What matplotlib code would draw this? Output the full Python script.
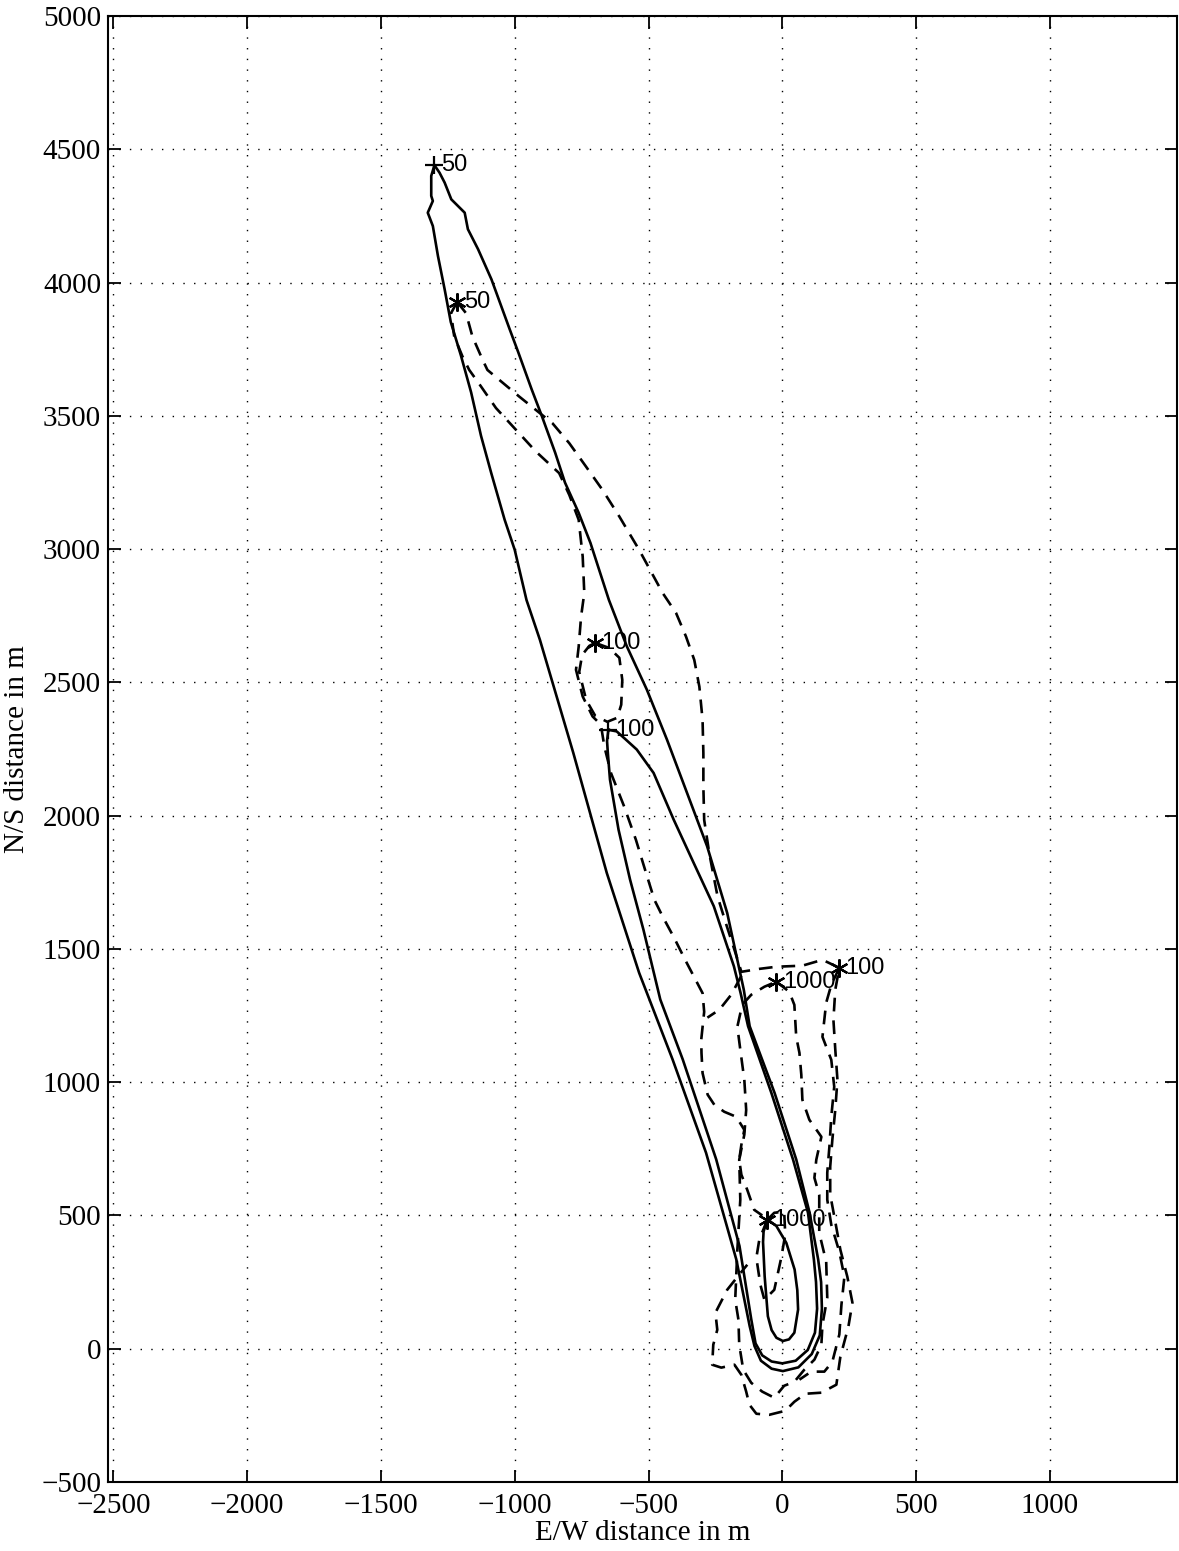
import matplotlib
matplotlib.use("Agg")
import matplotlib.pyplot as plt
import numpy as np

# concentration contours, model A (solid) and model B (dashed), metres
outer_solid = np.array([
    (-1300, 4440), (-1312, 4400), (-1312, 4325), (-1306, 4306), (-1325, 4262),
    (-1306, 4212), (-1287, 4100), (-1262, 3975), (-1239, 3852), (-1201, 3726),
    (-1163, 3588), (-1126, 3425), (-1088, 3286), (-1038, 3111), (-1000, 2997),
    (-956, 2809), (-906, 2660), (-781, 2235), (-656, 1785), (-535, 1410),
    (-410, 1085), (-285, 735), (-172, 335), (-122, 85), (-104, 10), (-80, -45),
    (-40, -75), (2, -84), (60, -70), (110, -20), (140, 50), (148, 150),
    (145, 250), (134, 335), (102, 510), (52, 710), (-29, 960), (-122, 1210),
    (-144, 1347), (-206, 1635), (-281, 1885), (-356, 2085), (-431, 2285),
    (-506, 2472), (-581, 2635), (-648, 2809), (-717, 3023), (-761, 3136),
    (-812, 3249), (-849, 3362), (-899, 3500), (-937, 3600), (-987, 3739),
    (-1019, 3825), (-1087, 4012), (-1137, 4125), (-1175, 4200), (-1187, 4262),
    (-1237, 4312), (-1262, 4375), (-1281, 4412), (-1300, 4440)])

middle_solid = np.array([
    (-650, 2322), (-655, 2280), (-652, 2235), (-644, 2135), (-612, 1947),
    (-569, 1760), (-519, 1572), (-456, 1310), (-372, 1085), (-247, 710),
    (-160, 385), (-116, 110), (-100, 20), (-75, -25), (-40, -48), (0, -55),
    (50, -45), (95, -5), (122, 60), (130, 150), (126, 250), (118, 335),
    (96, 510), (40, 710), (-41, 960), (-128, 1210), (-156, 1335), (-181, 1435),
    (-256, 1660), (-331, 1822), (-406, 1985), (-481, 2160), (-544, 2248),
    (-590, 2290), (-619, 2316), (-650, 2322)])

inner_solid = np.array([
    (-55, 485), (-70, 440), (-72, 400), (-66, 272), (-54, 122), (-40, 70),
    (-22, 41), (2, 29), (25, 35), (45, 60), (59, 147), (56, 220), (46, 297),
    (15, 397), (-22, 460), (-55, 485)])

dash_right = np.array([
    (-1215, 3927), (-1182, 3885), (-1158, 3797), (-1120, 3710), (-1102, 3672),
    (-1058, 3635), (-983, 3572), (-921, 3522), (-859, 3472), (-796, 3397),
    (-734, 3310), (-672, 3222), (-609, 3122), (-535, 2997), (-447, 2835),
    (-397, 2760), (-360, 2672), (-329, 2584), (-310, 2484), (-298, 2359),
    (-295, 2234), (-295, 2109), (-292, 1984), (-273, 1859), (-254, 1759),
    (-242, 1697), (-209, 1590), (-179, 1497), (-153, 1414), (-86, 1425),
    (-22, 1433), (75, 1437), (150, 1459), (213, 1429), (198, 1347), (191, 1234),
    (198, 1122), (206, 1009), (198, 897), (187, 784), (179, 683), (179, 578),
    (198, 476), (217, 371), (243, 270), (262, 173), (247, 83), (217, -30),
    (202, -135), (146, -165), (86, -169), (45, -199), (11, -233), (-49, -248),
    (-97, -244), (-123, -210), (-135, -161), (-153, -98), (-179, -60),
    (-228, -71), (-262, -60), (-258, 15), (-243, 71), (-250, 135), (-206, 221),
    (-161, 278), (-131, 315)])

dash_left = np.array([
    (-1215, 3927), (-1238, 3885), (-1226, 3797), (-1195, 3722), (-1170, 3672),
    (-1126, 3610), (-1070, 3529), (-995, 3447), (-921, 3366), (-834, 3285),
    (-796, 3203), (-761, 3110), (-746, 2972), (-740, 2835), (-752, 2747),
    (-761, 2634), (-771, 2547), (-746, 2447), (-709, 2372), (-678, 2341),
    (-665, 2259), (-640, 2159), (-591, 2034), (-547, 1909), (-509, 1784),
    (-478, 1684), (-447, 1621), (-404, 1541), (-360, 1453), (-298, 1334),
    (-292, 1264), (-303, 1159), (-302, 1109), (-298, 1034), (-279, 953),
    (-254, 915), (-217, 889), (-172, 870), (-142, 821), (-153, 765),
    (-161, 709), (-153, 653), (-131, 596), (-105, 521), (-75, 500)])

dash_loop_100 = np.array([
    (-699, 2648), (-647, 2629), (-609, 2592), (-598, 2509), (-602, 2416),
    (-617, 2367), (-654, 2352), (-699, 2374), (-733, 2434), (-759, 2539),
    (-748, 2603), (-721, 2637), (-699, 2648)])

dash_loop_1000 = np.array([
    (-22, 1377), (26, 1339), (45, 1290), (52, 1170), (64, 1110), (71, 1028),
    (75, 934), (101, 859), (146, 795), (127, 709), (120, 641), (138, 578),
    (138, 435), (164, 326), (168, 191), (150, 90), (146, 15), (120, -41),
    (82, -79), (45, -124), (7, -139), (-30, -184), (-75, -161), (-116, -128),
    (-146, -79), (-161, 15), (-164, 109), (-176, 184), (-168, 371), (-157, 559),
    (-161, 709), (-142, 803), (-135, 896), (-142, 1009), (-157, 1122),
    (-168, 1208), (-150, 1290), (-116, 1328), (-67, 1358), (-22, 1377)])

dash_core = np.array([
    (-56, 484), (-86, 409), (-97, 341), (-82, 240), (-67, 184), (-30, 221),
    (-4, 341), (11, 428), (7, 514), (-30, 510), (-56, 484)])

dash_right_inner = np.array([
    (213, 1429), (183, 1365), (164, 1298), (150, 1170), (183, 1084), (194, 983),
    (183, 870), (176, 758), (168, 660), (168, 559), (183, 465), (213, 364),
    (232, 270), (221, 165), (213, 53), (187, -49), (157, -86), (108, -86),
    (64, -116)])

dash_spur = np.array([(-153, 1399), (-191, 1328), (-235, 1272), (-280, 1242)])

# contour labels: (x, y, text, marker)
labels = [
    (-1300, 4440, '50', '+'),
    (-650, 2322, '100', '+'),
    (-1215, 3927, '50', '*'),
    (-699, 2648, '100', '*'),
    (-22, 1377, '1000', '*'),
    (213, 1429, '100', '*'),
    (-56, 484, '1000', '*'),
]

x_ticks = np.arange(-2500, 1001, 500)
y_ticks = np.arange(-500, 5001, 500)

serif = ['Liberation Serif', 'DejaVu Serif']
fig = plt.figure(figsize=(11.79, 15.51), dpi=100)
ax = fig.add_axes([0.0916, 0.0445, 0.9067, 0.9452])

ax.set_xlim(-2520, 1475)
ax.set_ylim(-500, 5000)
ax.set_xticks(x_ticks)
ax.set_yticks(y_ticks)
ax.grid(True, color='black', linestyle=(0, (1, 6.7)), linewidth=1.0)
ax.set_axisbelow(True)

for spine in ax.spines.values():
    spine.set_linewidth(1.5)
ax.tick_params(direction='in', length=9, width=1.3, top=True, right=True,
               labelsize=21)
ax.tick_params(axis='y', pad=5)
ax.tick_params(axis='x', pad=8)
for lab in ax.get_xticklabels() + ax.get_yticklabels():
    lab.set_family(serif)

solid_kw = dict(color='black', linewidth=1.9, solid_joinstyle='round')
dash_kw = dict(color='black', linewidth=1.9, linestyle=(0, (5.2, 3.4)),
               dash_capstyle='butt')

for c in (outer_solid, middle_solid, inner_solid):
    ax.plot(c[:, 0], c[:, 1], **solid_kw)
for c in (dash_right, dash_left, dash_loop_100, dash_loop_1000, dash_core,
          dash_right_inner, dash_spur):
    ax.plot(c[:, 0], c[:, 1], **dash_kw)

star = (6, 2, 0)
for x, y, txt, mk in labels:
    if mk == '+':
        ax.plot(x, y, marker='+', markersize=13, markeredgewidth=1.6,
                color='black')
    else:
        ax.plot(x, y, marker=star, markersize=13, markeredgewidth=1.6,
                color='black')
    ax.text(x + 24, y, txt, fontsize=17, family=['Liberation Sans', 'DejaVu Sans'],
            ha='left', va='center')

ax.set_xlabel('E/W distance in m', fontsize=21, family=serif)
ax.set_ylabel('N/S distance in m', fontsize=21, family=serif)
ax.xaxis.set_label_coords(0.5, -0.035)
ax.yaxis.set_label_coords(-0.085, 0.5)
ax.xaxis.label.set_va('center')
ax.yaxis.label.set_va('center')

fig.savefig('out.png', dpi=100, facecolor='white')
